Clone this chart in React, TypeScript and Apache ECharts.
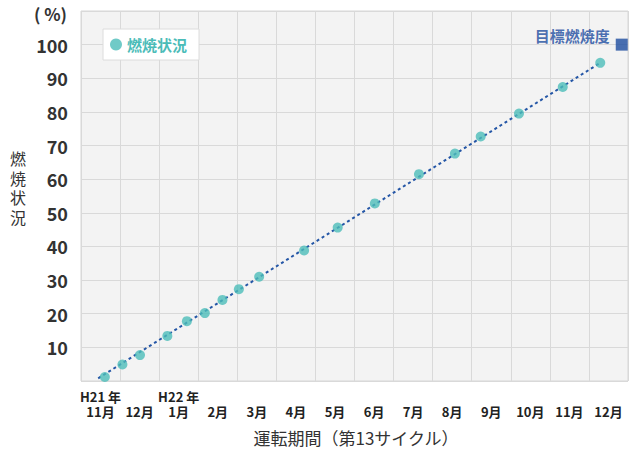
import React, { useEffect, useRef } from "react";
import * as echarts from "echarts";

const yearMarks = ["H21 年", "", "H22 年", "", "", "", "", "", "", "", "", "", "", ""];
const months = ["11月", "12月", "1月", "2月", "3月", "4月", "5月", "6月", "7月", "8月", "9月", "10月", "11月", "12月"];
// x position in months since start of Nov (H21), y = burn-up status (%)
const burnX = [0.61, 1.06, 1.51, 2.21, 2.71, 3.17, 3.62, 4.04, 4.56, 5.71, 6.57, 7.52, 8.65, 9.57, 10.23, 11.21, 12.33, 13.29];
const burnY = [1.2, 4.9, 7.7, 13.4, 17.8, 20.2, 24.1, 27.3, 31.0, 38.8, 45.6, 52.8, 61.5, 67.6, 72.7, 79.5, 87.4, 94.6];
const trendX = [0.44, 13.29];
const trendY = [0.8, 94.6];
const targetX = [13.84];
const targetY = [100];
const yTicks = [0, 10, 20, 30, 40, 50, 60, 70, 80, 90, 100, 110];
const yUnit = "( %)";
const yTitle = ["燃", "焼", "状", "況"];

const FONT = "'Noto Sans CJK JP', 'Noto Sans', sans-serif";

export default function App() {
  const ref = useRef<HTMLDivElement>(null);
  useEffect(() => {
    if (!ref.current) return;
    const chart = echarts.init(ref.current, undefined, { renderer: "svg" });
    const categories = months.map((m, i) => `${yearMarks[i]}\n${m}`);
    chart.setOption({
      animation: false,
      textStyle: { fontFamily: FONT },
      grid: {
        left: 81,
        right: 12,
        top: 11,
        bottom: 71,
        show: true,
        backgroundColor: "#f3f3f3",
        borderColor: "#d6d6d6",
        borderWidth: 1,
        containLabel: false,
        outerBoundsMode: "none",
      },
      legend: {
        data: ["燃焼状況"],
        left: 103,
        top: 29,
        backgroundColor: "#ffffff",
        borderColor: "#dcdcdc",
        borderWidth: 1,
        borderRadius: 0,
        padding: [8, 12, 8, 7],
        itemWidth: 12,
        itemHeight: 12,
        itemGap: 6,
        icon: "circle",
        textStyle: { color: "#4bbcb8", fontSize: 15, fontWeight: "bold", fontFamily: FONT },
      },
      xAxis: [
        {
          type: "value",
          min: 0,
          max: 14,
          interval: 1,
          axisLabel: { show: false },
          axisTick: { show: false },
          axisLine: { show: false },
          splitLine: { show: true, lineStyle: { color: "#d9d9d9", width: 1 } },
        },
        {
          type: "category",
          data: categories,
          boundaryGap: true,
          position: "bottom",
          axisTick: { show: false },
          axisLine: { show: false },
          splitLine: { show: false },
          axisLabel: {
            interval: 0,
            margin: 8,
            color: "#222",
            fontSize: 13,
            fontWeight: "bold",
            lineHeight: 15,
            fontFamily: FONT,
          },
        },
      ],
      yAxis: {
        type: "value",
        min: 0,
        max: 110,
        interval: 10,
        axisLine: { show: false },
        axisTick: { show: false },
        splitLine: { show: true, lineStyle: { color: "#d9d9d9", width: 1 } },
        axisLabel: {
          margin: 13,
          color: "#333",
          fontSize: 18,
          lineHeight: 18,
          fontWeight: "bold",
          fontFamily: FONT,
          formatter: (v: number) => (v === yTicks[0] || v === yTicks[yTicks.length - 1] ? "" : String(v)),
        },
      },
      graphic: [
        {
          type: "text",
          x: 67,
          y: 13,
          style: {
            text: yUnit,
            fill: "#333",
            fontSize: 17,
            fontWeight: "bold",
            align: "right",
            verticalAlign: "middle",
            fontFamily: FONT,
          },
        },
        ...yTitle.map((ch, i) => ({
          type: "text",
          x: 18,
          y: 158 + i * 19.5,
          style: {
            text: ch,
            fill: "#333",
            fontSize: 16,
            align: "center",
            verticalAlign: "middle",
            fontFamily: FONT,
          },
        })),
        {
          type: "text",
          x: 356,
          y: 437,
          style: {
            text: "運転期間（第13サイクル）",
            fill: "#333",
            fontSize: 17,
            align: "center",
            verticalAlign: "middle",
            fontFamily: FONT,
          },
        },
      ],
      series: [
        {
          name: "trend",
          type: "line",
          xAxisIndex: 0,
          data: trendX.map((x, i) => [x, trendY[i]]),
          symbol: "none",
          lineStyle: { color: "#2456a6", width: 2, type: [3, 3] },
          z: 2,
          silent: true,
        },
        {
          name: "燃焼状況",
          type: "scatter",
          xAxisIndex: 0,
          data: burnX.map((x, i) => [x, burnY[i]]),
          symbol: "circle",
          symbolSize: 10,
          itemStyle: { color: "#4cbdb9" },
          z: 3,
        },
        {
          name: "目標燃焼度",
          type: "scatter",
          xAxisIndex: 0,
          data: targetX.map((x, i) => [x, targetY[i]]),
          symbol: "rect",
          symbolSize: 12,
          itemStyle: { color: "#1d4c9f" },
          label: {
            show: true,
            position: "left",
            distance: 6,
            offset: [0, -9],
            formatter: "目標燃焼度",
            color: "#1d4c9f",
            fontSize: 15,
            fontWeight: "bold",
            fontFamily: FONT,
          },
          z: 3,
        },
      ],
    });
    return () => chart.dispose();
  }, []);
  return <div ref={ref} style={{ position: "absolute", left: 0, top: 0, width: 640, height: 452 }} />;
}
